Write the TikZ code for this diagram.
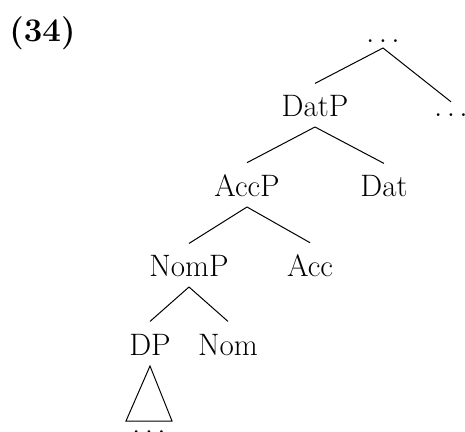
\documentclass[tikz,border=0pt]{standalone}
\begin{document}
\begin{tikzpicture}[x=0.5pt,y=-0.5pt,
  lab/.style={anchor=base,inner xsep=1pt,inner ysep=6pt,font=\fontsize{15.5}{18}\selectfont},
  edge/.style={line width=0.5pt}]
\useasboundingbox (0,0) rectangle (465,432);
\node[lab,anchor=base west,font=\fontsize{16.5}{19}\selectfont\bfseries] (ex) at (7,42) {(34)};
\node[lab] (top) at (383,43) {$\ldots$};
\node[lab] (DatP) at (315,117) {DatP};
\node[lab] (rdots) at (451,117) {$\ldots$};
\node[lab] (AccP) at (247,197) {AccP};
\node[lab] (Dat) at (384,197) {Dat};
\node[lab] (NomP) at (189,277) {NomP};
\node[lab] (Acc) at (310,277) {Acc};
\node[lab] (DP) at (150,355) {DP};
\node[lab] (Nom) at (228,355) {Nom};
\node[lab] (bdots) at (149,433) {$\ldots$};
\coordinate (tl) at (126,421);
\coordinate (tr) at (172,421);
\draw[edge] ([yshift=-2.5pt]top.base) -- (DatP.north);
\draw[edge] ([yshift=-2.5pt]top.base) -- (rdots.north);
\draw[edge] ([yshift=-5pt]DatP.base) -- (AccP.north);
\draw[edge] ([yshift=-5pt]DatP.base) -- (Dat.north);
\draw[edge] ([yshift=-5pt]AccP.base) -- (NomP.north);
\draw[edge] ([yshift=-5pt]AccP.base) -- (Acc.north);
\draw[edge] ([yshift=-5pt]NomP.base) -- (DP.north);
\draw[edge] ([yshift=-5pt]NomP.base) -- (Nom.north);
\draw[edge] ([yshift=-5.5pt]DP.base) -- (tl) -- (tr) -- cycle;
\end{tikzpicture}
\end{document}
